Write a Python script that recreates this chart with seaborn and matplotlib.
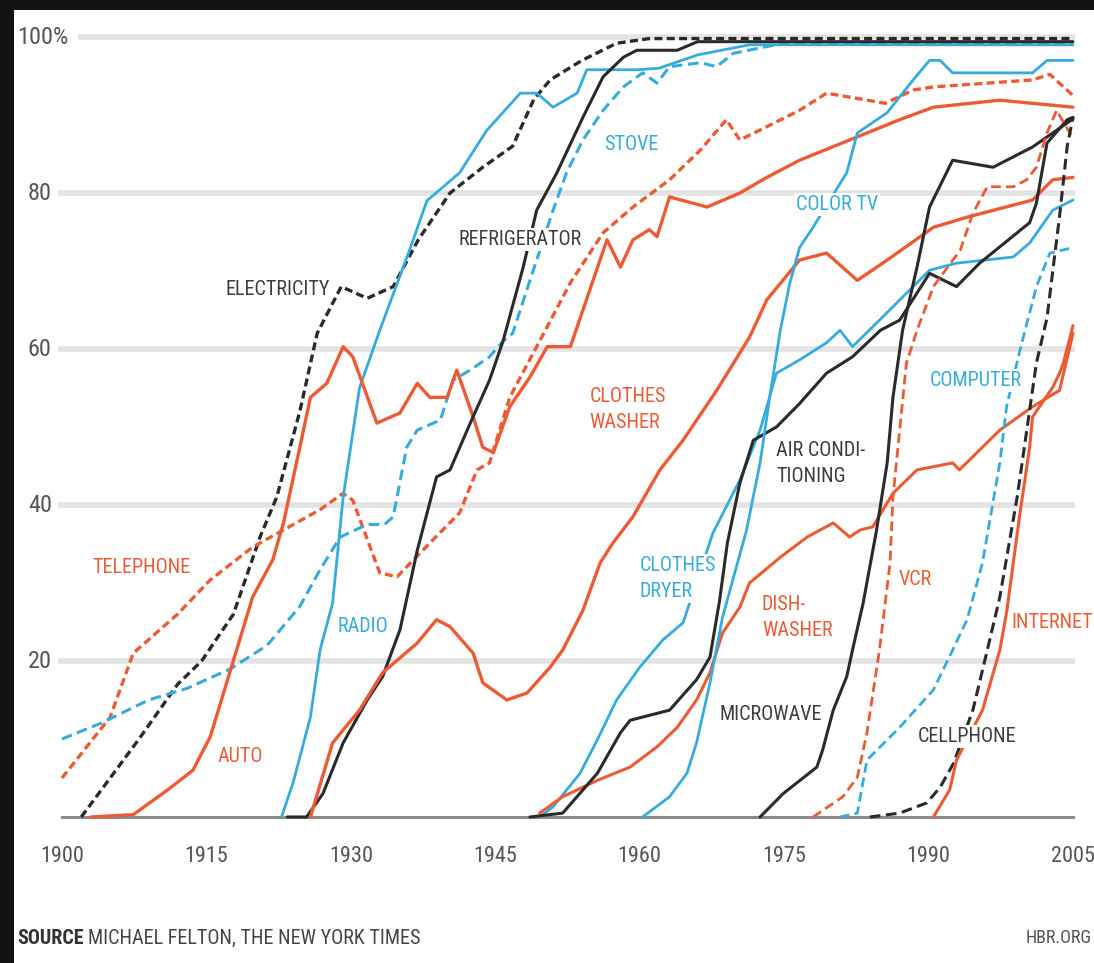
import matplotlib
matplotlib.use("Agg")
import matplotlib.pyplot as plt
from matplotlib.patches import Rectangle
from matplotlib import font_manager
import seaborn as sns

# percent of US households
electricity_yr = [1902, 1908, 1912, 1914.5, 1917.8, 1920.6, 1922.3, 1924.7, 1926.5, 1929, 1931.7, 1934.4, 1937, 1940.3, 1943.7, 1946.8, 1949, 1950.7, 1954, 1957.6, 1961, 2005]
electricity = [0, 10, 17, 20, 26, 36, 41, 52, 62, 68, 66.5, 68, 74, 80, 83.3, 86, 92, 94.5, 97, 99.2, 99.8, 99.8]

telephone_yr = [1900, 1905, 1907.4, 1912, 1915.4, 1919.8, 1923, 1926.8, 1929.2, 1930.2, 1933, 1934.8, 1938.5, 1941.3, 1943.1, 1944.4, 1946.5, 1949.3, 1952.8, 1956.2, 1959.3, 1963.1, 1966.3, 1969, 1970.4, 1973.2, 1976.6, 1979.4, 1985.5, 1988.4, 1990.5, 2000.8, 2002.6, 2005]
telephone = [5, 12.8, 21, 26, 30.4, 34.6, 36.8, 39.4, 41.5, 40.6, 31.3, 30.8, 35.5, 39, 44.5, 45.4, 53.8, 60.3, 68.5, 74.9, 78.2, 81.7, 85.5, 89.4, 86.8, 88.5, 90.6, 92.8, 91.5, 93.2, 93.6, 94.5, 95.2, 92.5]

auto_yr = [1903, 1907.4, 1911, 1913.6, 1915.4, 1917.1, 1919.8, 1921.9, 1923, 1924.7, 1925.8, 1927.5, 1929.2, 1930.2, 1932.7, 1935.1, 1936.9, 1938.2, 1940, 1941, 1942.7, 1943.7, 1944.8, 1946.5, 1948.6, 1950.4, 1952.8, 1956.6, 1958, 1959.3, 1961, 1961.8, 1963.1, 1967, 1970.4, 1973.2, 1976.6, 1980, 1983.6, 1987, 1990.5, 1997.4, 2005]
auto = [0, 0.3, 3.5, 6, 10.3, 17.2, 28.2, 33, 37.7, 47.4, 53.8, 55.6, 60.3, 59, 50.5, 51.8, 55.6, 53.8, 53.8, 57.3, 51.3, 47.4, 46.7, 52.6, 56.4, 60.3, 60.3, 74, 70.5, 74, 75.3, 74.4, 79.5, 78.2, 80, 82, 84.2, 85.9, 87.7, 89.4, 91, 91.9, 91]

radio_yr = [1922.8, 1924, 1925.8, 1926.8, 1928.1, 1929.2, 1930.9, 1933, 1936.1, 1937.9, 1941.3, 1944.1, 1947.6, 1949.3, 1951, 1953.5, 1954.5, 1959.7, 1962, 1966, 1971.4, 2005]
radio = [0, 4.4, 12.8, 21.4, 27.4, 41, 55, 62.4, 72.7, 79, 82.6, 88, 92.8, 92.8, 91, 92.8, 95.8, 95.8, 96, 97.7, 99, 99]

fridge_yr = [1923.4, 1925.4, 1927.1, 1929.2, 1931.7, 1933.3, 1935.1, 1936.9, 1938.9, 1940.3, 1942.4, 1944.4, 1945.8, 1947.9, 1949.3, 1951.4, 1954.1, 1956.2, 1958.3, 1959.7, 1963.9, 1966, 2005]
fridge = [0, 0, 3, 9.5, 15, 18, 24, 34.2, 43.6, 44.5, 50.5, 56, 61, 70.5, 77.8, 82.6, 89.7, 94.9, 97.4, 98.3, 98.3, 99.4, 99.4]

stove_yr = [1900, 1904, 1909, 1913, 1917.5, 1921.3, 1924.7, 1926.8, 1928.9, 1931.7, 1933.5, 1934.4, 1935.8, 1936.9, 1939.3, 1940.6, 1942.4, 1944.4, 1945.8, 1946.8, 1948.6, 1951, 1952.4, 1954.1, 1956.2, 1958.3, 1960.3, 1961.8, 1963.1, 1966.3, 1968, 1969.7, 1974.9, 2005]
stove = [10, 12, 15, 16.5, 19, 22, 27, 31.7, 35.9, 37.5, 37.5, 38.5, 47.4, 49.6, 50.9, 56, 57.3, 59, 61, 62, 68.8, 77.8, 82.6, 86.8, 90.6, 93.6, 95.4, 94.1, 96.2, 96.7, 96.2, 97.9, 99.2, 99.2]

washer_yr = [1925.8, 1928.1, 1930.9, 1933.3, 1936.9, 1938.9, 1940.3, 1942.7, 1943.7, 1946.2, 1948.3, 1950.7, 1952, 1954.1, 1955.9, 1957.2, 1959.3, 1962.1, 1964.5, 1968, 1971.4, 1973.2, 1976.6, 1979.4, 1982.6, 1985.7, 1990.5, 1994, 2000.8, 2002.9, 2005]
washer = [0, 9.5, 13.7, 18.5, 22.3, 25.3, 24.4, 21, 17.2, 15, 15.9, 19.2, 21.4, 26.5, 32.6, 35.1, 38.5, 44.5, 48.3, 54.7, 61.5, 66.3, 71.4, 72.3, 68.8, 71.4, 75.6, 76.9, 79.1, 81.7, 82]

dryer_yr = [1949.6, 1951, 1953.8, 1955.6, 1957.6, 1960, 1962.4, 1964.5, 1967.6, 1970.4, 1972.5, 1974.2, 1976.6, 1979.4, 1980.8, 1982.1, 1984.9, 1990.1, 1992.9, 1998.8, 2000.5, 2002.9, 2005]
dryer = [0, 1.3, 5.6, 9.9, 15, 19.2, 22.7, 24.9, 36.4, 43.2, 49.6, 56.9, 58.6, 60.8, 62.4, 60.3, 63.7, 70.1, 71, 71.8, 73.6, 77.8, 79.1]

dishwasher_yr = [1949.6, 1952, 1955.6, 1959, 1961.8, 1963.9, 1965.9, 1967.3, 1968.6, 1970.4, 1971.4, 1974.6, 1977.4, 1980.1, 1981.8, 1982.9, 1984.2, 1986.3, 1988.8, 1992.5, 1993.2, 1997.4, 2000.8, 2003.6, 2005]
dishwasher = [0.5, 2.6, 4.7, 6.4, 9, 11.5, 15, 18.5, 23.6, 26.9, 30, 33.3, 35.9, 37.7, 35.9, 36.8, 37.2, 41.5, 44.5, 45.4, 44.5, 49.6, 52.6, 54.7, 62]

aircon_yr = [1948.6, 1952, 1955.6, 1958, 1959, 1963.1, 1965.9, 1967.3, 1968.3, 1969.1, 1970.4, 1971.8, 1974.2, 1976.6, 1979.4, 1982.1, 1985, 1987, 1990.1, 1992.9, 1995.3, 2000.5, 2001.2, 2002.3, 2004.4, 2005]
aircon = [0, 0.5, 5.6, 10.8, 12.4, 13.7, 17.6, 20.5, 27.8, 35.1, 42.8, 48.3, 50, 53, 56.9, 59, 62.4, 63.7, 69.7, 68, 71, 76.2, 78.7, 86.4, 89.4, 89.7]

colortv_yr = [1960.3, 1963.1, 1964.9, 1965.9, 1967.3, 1968.6, 1971.1, 1972.5, 1973.5, 1974.6, 1975.6, 1976.6, 1978, 1981.5, 1982.6, 1985.7, 1988.4, 1990.1, 1991.2, 1992.5, 2000.8, 2002.3, 2005]
colortv = [0, 2.6, 5.6, 9.5, 17.2, 25.6, 36.8, 45.4, 53.8, 62.4, 68.5, 73, 75.6, 82.6, 87.7, 90.3, 94.5, 97, 97, 95.4, 95.4, 97, 97]

microwave_yr = [1972.5, 1974.9, 1978.4, 1979, 1980.1, 1981.5, 1982.1, 1983.2, 1984.6, 1985.7, 1986.3, 1987.3, 1988.8, 1990.1, 1992.5, 1996.7, 2000.8, 2005]
microwave = [0, 3, 6.4, 8.6, 13.7, 18, 21.4, 27.4, 36.8, 45.4, 53.8, 62.4, 70.5, 78.2, 84.2, 83.3, 85.9, 89.5]

vcr_yr = [1978, 1981.1, 1982.6, 1983.6, 1984.9, 1986, 1986.3, 1987.7, 1988.8, 1990.5, 1993.3, 1994.6, 1996.1, 1998.8, 2000.2, 2001.2, 2002.3, 2003.3, 2005]
vcr = [0, 2.6, 5.1, 10.8, 21.4, 32.6, 41, 58.2, 62.4, 68, 72.7, 77.4, 80.8, 80.8, 81.7, 83.3, 87.7, 90.6, 87]

computer_yr = [1980.8, 1982.6, 1983.6, 1987, 1990.5, 1992.5, 1994, 1995.6, 1997.4, 1998.1, 1999.5, 2001.2, 2002.6, 2005]
computer = [0, 0.5, 7.3, 11.5, 16.3, 21.4, 25.3, 32.6, 45.4, 52.6, 59.9, 68, 72.3, 73]

cellphone_yr = [1983.9, 1987, 1989.8, 1991.2, 1992.6, 1994.6, 1996.1, 1997.4, 1999.2, 2000.2, 2001.2, 2002.3, 2003.6, 2004.4, 2005]
cellphone = [0, 0.5, 1.8, 3.8, 6.9, 13.7, 21.4, 28.2, 41, 49.6, 58.2, 64, 77, 86, 89.7]

internet_yr = [1990.5, 1992.2, 1992.9, 1995.6, 1997.4, 1998.1, 1999.5, 2000.5, 2000.8, 2002.9, 2003.6, 2004, 2005]
internet = [0, 3.5, 7.3, 13.7, 21.4, 26.2, 39, 47.4, 51.3, 55.1, 56.9, 58.2, 63]

year_ticks = [1900, 1915, 1930, 1945, 1960, 1975, 1990, 2005]
pct_ticks = [20, 40, 60, 80, 100]
pct_labels = ["20", "40", "60", "80", "100%"]

ORANGE = "#ee5a34"
BLUE = "#35ace0"
BLACK = "#2a2a2a"
TXT = "#3c3c3c"

sns.set_style("white")
names = {f.name for f in font_manager.fontManager.ttflist}
narrow = [n for n in ["Roboto Condensed", "Liberation Sans Narrow"] if n in names]
plt.rcParams["font.family"] = narrow + ["Liberation Sans", "DejaVu Sans"]
plt.rcParams["font.stretch"] = "condensed"

fig = plt.figure(figsize=(10.94, 9.63), dpi=100, facecolor="#121212")
fig.patches.append(Rectangle((14 / 1094, 0), 1, 953 / 963, transform=fig.transFigure,
                             facecolor="white", edgecolor="none", zorder=-10))

# axes placed so that 1900..2005 spans px 62..1073 and 0..102 spans px 817..21
ax = fig.add_axes([62 / 1094, (963 - 817) / 963, 1011 / 1094, 795.6 / 963])
ax.set_facecolor("none")
ax.set_xlim(1900, 2005)
ax.set_ylim(0, 102)

dash_a = (0, (2.4, 1.3))
dash_b = (0, (3.5, 1.8))
series = [
    (electricity_yr, electricity, BLACK, dash_a, 2.4),
    (telephone_yr, telephone, ORANGE, dash_a, 2.4),
    (stove_yr, stove, BLUE, dash_b, 2.2),
    (radio_yr, radio, BLUE, "-", 2.0),
    (auto_yr, auto, ORANGE, "-", 2.4),
    (fridge_yr, fridge, BLACK, "-", 2.2),
    (washer_yr, washer, ORANGE, "-", 2.4),
    (dryer_yr, dryer, BLUE, "-", 2.0),
    (dishwasher_yr, dishwasher, ORANGE, "-", 2.2),
    (aircon_yr, aircon, BLACK, "-", 2.2),
    (colortv_yr, colortv, BLUE, "-", 2.0),
    (microwave_yr, microwave, BLACK, "-", 2.2),
    (vcr_yr, vcr, ORANGE, dash_b, 2.0),
    (computer_yr, computer, BLUE, dash_b, 2.0),
    (cellphone_yr, cellphone, BLACK, dash_b, 2.2),
    (internet_yr, internet, ORANGE, "-", 2.2),
]

ax.hlines(pct_ticks[:-1], 1899.6, 2005.2, color="#e3e3e3", lw=4, zorder=0, clip_on=False)
ax.hlines(100, 1901.7, 2005.2, color="#e3e3e3", lw=4, zorder=0, clip_on=False)

for yrs, vals, col, ls, lw in series:
    sns.lineplot(x=yrs, y=vals, color=col, linestyle=ls, linewidth=lw,
                 estimator=None, errorbar=None, ax=ax, clip_on=False, zorder=3)

for s in ["top", "right", "left"]:
    ax.spines[s].set_visible(False)
ax.spines["bottom"].set_color("#8c8c8c")
ax.spines["bottom"].set_linewidth(2.2)
ax.spines["bottom"].set_zorder(2)
ax.set_xticks(year_ticks)
ax.set_xticklabels([str(y) for y in year_ticks])
ax.tick_params(axis="x", direction="in", length=17, width=1.3, color="#808080",
               labelsize=16, labelcolor="#555555", pad=21)
ax.set_yticks([])
ax.set_xlabel("")
ax.set_ylabel("")

for v, lab in zip(pct_ticks, pct_labels):
    x = 1898.0 if lab == "100%" else 1897.7
    ax.text(x, v, lab, fontsize=17.5, color="#555555", ha="center", va="center", clip_on=False)

box = dict(facecolor="white", edgecolor="none", pad=1.5)
labels = [
    (1908.3, 32.0, "TELEPHONE", ORANGE, "center"),
    (1918.5, 7.7, "AUTO", ORANGE, "center"),
    (1922.4, 67.6, "ELECTRICITY", TXT, "center"),
    (1931.3, 24.4, "RADIO", BLUE, "center"),
    (1947.6, 74.0, "REFRIGERATOR", TXT, "center"),
    (1959.1, 86.2, "STOVE", BLUE, "center"),
    (1954.8, 52.2, "CLOTHES\nWASHER", ORANGE, "left"),
    (1980.5, 78.5, "COLOR TV", BLUE, "center"),
    (1994.9, 56.0, "COMPUTER", BLUE, "center"),
    (1974.2, 45.3, "AIR CONDI-\nTIONING", TXT, "left"),
    (1960.0, 30.6, "CLOTHES\nDRYER", BLUE, "left"),
    (1972.7, 25.6, "DISH-\nWASHER", ORANGE, "left"),
    (1988.6, 30.4, "VCR", ORANGE, "center"),
    (1998.6, 25.0, "INTERNET", ORANGE, "left"),
    (1973.6, 13.1, "MICROWAVE", TXT, "center"),
    (1994.0, 10.3, "CELLPHONE", TXT, "center"),
]
for x, y, s, c, ha in labels:
    ax.text(x, y, s, color=c, fontsize=14.5, ha=ha, va="center", linespacing=1.45,
            bbox=box, zorder=5, clip_on=False)

src = fig.text(17 / 1094, (963 - 938) / 963, "SOURCE", fontsize=14.5, fontweight="bold",
               color="#333333", va="center")
ax.annotate("MICHAEL FELTON, THE NEW YORK TIMES", xy=(1, 0.5), xycoords=src,
            xytext=(3, 0), textcoords="offset points", fontsize=14.5,
            color="#444444", va="center", annotation_clip=False)
fig.text(1092 / 1094, (963 - 938) / 963, "HBR.ORG", fontsize=13, color="#555555",
         va="center", ha="right")

fig.savefig("out.png", dpi=100, facecolor=fig.get_facecolor())
